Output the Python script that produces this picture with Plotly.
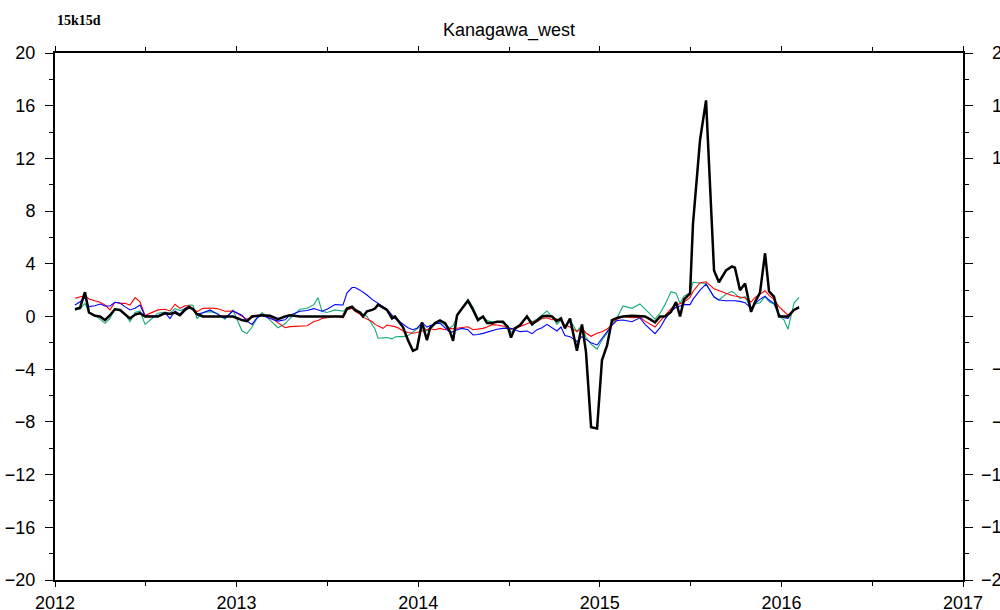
import plotly.graph_objects as go

# decimal-year time stamps of the samples
t = [2012.110, 2012.138, 2012.165, 2012.187, 2012.220, 2012.248, 2012.275, 2012.303, 2012.330, 2012.358,
     2012.385, 2012.413, 2012.441, 2012.468, 2012.496, 2012.534, 2012.567, 2012.606, 2012.633, 2012.661,
     2012.688, 2012.716, 2012.738, 2012.760, 2012.782, 2012.815, 2012.854, 2012.892, 2012.936, 2012.980,
     2013.030, 2013.057, 2013.085, 2013.112, 2013.140, 2013.184, 2013.228, 2013.267, 2013.294, 2013.349,
     2013.388, 2013.426, 2013.448, 2013.470, 2013.498, 2013.542, 2013.586, 2013.608, 2013.636, 2013.652,
     2013.680, 2013.696, 2013.718, 2013.746, 2013.762, 2013.779, 2013.806, 2013.828, 2013.856, 2013.872,
     2013.894, 2013.916, 2013.944, 2013.971, 2013.993, 2014.021, 2014.048, 2014.065, 2014.093, 2014.120,
     2014.148, 2014.175, 2014.192, 2014.214, 2014.241, 2014.274, 2014.302, 2014.329, 2014.357, 2014.379,
     2014.406, 2014.434, 2014.467, 2014.495, 2014.511, 2014.533, 2014.561, 2014.599, 2014.627, 2014.654,
     2014.682, 2014.709, 2014.737, 2014.764, 2014.786, 2014.808, 2014.836, 2014.874, 2014.902, 2014.924,
     2014.952, 2014.985, 2015.012, 2015.040, 2015.067, 2015.095, 2015.128, 2015.177, 2015.221, 2015.249,
     2015.276, 2015.304, 2015.332, 2015.359, 2015.392, 2015.420, 2015.442, 2015.464, 2015.497, 2015.513,
     2015.552, 2015.585, 2015.629, 2015.656, 2015.695, 2015.728, 2015.744, 2015.772, 2015.800, 2015.833,
     2015.855, 2015.882, 2015.910, 2015.932, 2015.959, 2015.987, 2016.014, 2016.036, 2016.069, 2016.097]

black = [0.55, 0.67, 1.85, 0.30, 0.05, 0.00, -0.27, 0.10, 0.55, 0.50,
         0.17, -0.15, 0.15, 0.25, 0.00, 0.00, 0.00, 0.25, 0.20, 0.30,
         0.10, 0.50, 0.70, 0.55, 0.17, 0.00, 0.00, 0.00, 0.00, 0.00,
         -0.27, -0.35, 0.00, 0.05, 0.10, 0.05, -0.20, 0.00, 0.10, 0.00,
         0.00, 0.00, 0.00, 0.00, 0.00, 0.00, 0.00, 0.60, 0.75, 0.50,
         0.30, 0.00, 0.40, 0.50, 0.60, 0.90, 0.70, 0.50, -0.15, 0.00,
         -0.40, -0.80, -1.80, -2.60, -2.45, -0.45, -1.80, -0.90, -0.50, -0.30,
         -0.50, -1.15, -1.85, 0.10, 0.60, 1.20, 0.50, -0.27, 0.00, -0.50,
         -0.50, -0.40, -0.40, -0.85, -1.60, -0.90, -0.65, 0.00, -0.60, -0.27,
         0.00, 0.05, 0.00, -0.35, -0.15, -0.90, -0.15, -2.60, -0.60, -2.70,
         -8.40, -8.50, -3.30, -2.20, -0.27, -0.10, 0.00, 0.05, 0.05, 0.00,
         -0.20, -0.45, 0.00, 0.00, 0.35, 1.10, 0.00, 1.30, 1.75, 7.00,
         13.40, 16.40, 3.50, 2.60, 3.50, 3.80, 3.70, 2.00, 2.50, 0.35,
         1.10, 1.80, 4.80, 1.90, 1.50, 0.00, 0.00, 0.00, 0.50, 0.70]

blue = [0.87, 1.12, 1.43, 0.75, 0.82, 0.95, 0.80, 0.80, 1.08, 1.02,
        0.75, 0.50, 0.62, 0.87, 0.03, 0.02, 0.05, 0.30, -0.15, 0.42,
        0.17, 0.62, 0.67, 0.60, 0.17, 0.28, 0.50, 0.20, -0.12, 0.42,
        0.10, -0.35, -0.60, -0.10, 0.10, -0.15, -0.35, -0.25, 0.10, 0.40,
        0.45, 0.60, 0.50, 0.40, 0.55, 0.90, 0.87, 1.80, 2.20, 2.20,
        2.00, 1.85, 1.63, 1.30, 1.15, 1.00, 0.75, 0.55, 0.10, -0.15,
        -0.35, -0.55, -0.85, -1.00, -0.90, -0.45, -0.80, -0.70, -0.55, -0.50,
        -0.85, -1.20, -1.15, -1.00, -0.90, -1.00, -1.40, -1.37, -1.28, -1.20,
        -1.05, -0.97, -0.90, -0.88, -0.90, -1.00, -1.15, -1.10, -1.30, -1.00,
        -0.85, -0.60, -0.85, -1.10, -0.80, -1.45, -1.53, -1.90, -1.53, -1.75,
        -2.00, -2.16, -1.65, -1.15, -0.65, -0.30, -0.27, -0.40, -0.10, -0.60,
        -0.95, -1.30, -0.85, -0.20, 0.40, 0.70, 0.80, 0.90, 0.90, 1.30,
        2.00, 2.45, 1.50, 1.25, 1.20, 1.22, 1.20, 1.15, 1.05, 0.62,
        1.00, 1.30, 1.55, 1.25, 1.00, 0.15, -0.10, -0.15, 0.50, 0.75]

red = [1.38, 1.50, 1.58, 1.33, 1.18, 1.08, 0.87, 0.50, 1.08, 1.00,
       1.00, 0.87, 1.43, 1.12, 0.07, 0.30, 0.50, 0.55, 0.42, 0.93,
       0.62, 0.82, 0.82, 0.62, 0.37, 0.62, 0.65, 0.60, 0.40, 0.42,
       0.00, -0.20, -0.05, 0.05, 0.17, -0.05, -0.50, -0.85, -0.77, -0.70,
       -0.70, -0.38, -0.30, -0.15, -0.10, 0.05, -0.10, 0.50, 0.62, 0.40,
       0.17, -0.05, -0.20, -0.38, -0.60, -0.70, -0.90, -0.65, -0.72, -0.77,
       -0.90, -1.10, -1.22, -1.27, -1.22, -1.10, -0.97, -0.93, -1.00, -0.90,
       -1.00, -0.90, -0.93, -0.90, -0.85, -0.78, -1.00, -0.95, -0.90, -0.80,
       -0.62, -0.65, -0.72, -0.90, -0.98, -0.85, -0.75, -0.55, -0.40, -0.40,
       -0.15, -0.10, -0.25, -0.20, -0.30, -0.65, -0.80, -1.15, -0.85, -1.25,
       -1.50, -1.27, -1.15, -0.95, -0.65, -0.20, 0.00, -0.10, -0.05, -0.35,
       -0.60, -0.80, -0.35, 0.05, 0.60, 0.85, 0.95, 1.10, 1.45, 1.90,
       2.57, 2.64, 2.10, 1.95, 1.75, 1.60, 1.55, 1.50, 1.40, 1.10,
       1.45, 1.70, 1.96, 1.60, 1.30, 0.75, 0.35, 0.10, 0.50, 0.75]

green = [0.50, 0.57, 1.00, 0.30, 0.10, -0.20, -0.52, -0.15, 0.62, 0.42,
         0.17, -0.40, 0.30, 0.42, -0.60, -0.15, 0.25, 0.33, 0.25, 0.60,
         0.45, 0.60, 0.87, 0.85, -0.15, 0.30, 0.37, 0.25, -0.20, 0.50,
         -1.10, -1.30, -0.80, -0.15, 0.30, -0.27, -0.85, -0.55, -0.15, 0.55,
         0.62, 0.90, 1.43, 0.40, 0.30, 0.50, 0.40, 0.62, 0.62, 0.55,
         0.25, 0.15, 0.00, -0.55, -0.95, -1.65, -1.60, -1.60, -1.70, -1.55,
         -1.53, -1.53, -1.45, -1.20, -0.95, -0.65, -1.10, -0.80, -0.50, -0.40,
         -0.60, -0.85, -0.70, 0.00, 0.62, 1.30, 0.70, -0.15, 0.00, -0.30,
         -0.40, -0.40, -0.50, -0.70, -1.20, -0.95, -0.75, 0.00, -0.40, -0.20,
         0.10, 0.42, 0.00, -0.60, -0.30, -0.70, -0.30, -1.15, -0.65, -1.60,
         -2.10, -2.47, -1.78, -1.27, -0.50, -0.10, 0.80, 0.62, 0.95, 0.60,
         0.20, -0.20, 0.25, 0.90, 1.88, 1.76, 1.00, 1.55, 1.80, 2.60,
         2.57, 2.50, 1.45, 1.25, 1.70, 1.90, 1.76, 1.38, 1.50, 0.62,
         0.95, 1.05, 1.50, 1.12, 0.95, 0.05, -0.25, -0.97, 1.00, 1.45]

assert len(t) == len(black) == len(blue) == len(red) == len(green)

year_ticks = [2012, 2013, 2014, 2015, 2016, 2017]
y_ticks = [20, 16, 12, 8, 4, 0, -4, -8, -12, -16, -20]
# right-hand labels as they are visible in the original (cut by the page edge)
right_vals = [20, 16, 12, -4, -8, -12, -16, -20]
right_text = ["2", "1", "1", "\u2212", "\u2212", "\u22121", "\u22121", "\u22122"]

FONT = "Liberation Sans, Arial, Helvetica, sans-serif"

fig = go.Figure()
fig.add_trace(go.Scatter(x=t, y=green, mode="lines", line=dict(color="#14aa78", width=1.1)))
fig.add_trace(go.Scatter(x=t, y=red, mode="lines", line=dict(color="#ff0000", width=1.1)))
fig.add_trace(go.Scatter(x=t, y=blue, mode="lines", line=dict(color="#0000ff", width=1.1)))
fig.add_trace(go.Scatter(x=t, y=black, mode="lines", line=dict(color="#000000", width=2.5)))

for v, txt in zip(right_vals, right_text):
    xl = 1.0181 if txt.startswith("\u2212") and len(txt) > 1 else 1.0292
    fig.add_annotation(x=xl, xref="paper", y=v, yref="y", text=txt, showarrow=False,
                       xanchor="left", yanchor="middle", font=dict(family=FONT, size=18, color="black"))

fig.add_annotation(x=0.0, xref="paper", y=1.0626, yref="paper", text="<b>15k15d</b>", showarrow=False,
                   xanchor="left", yanchor="middle",
                   font=dict(family="Liberation Serif, Times New Roman, serif", size=14, color="black"))

fig.update_layout(
    width=1000, height=610,
    margin=dict(l=55, r=37, t=53, b=30, autoexpand=False),
    paper_bgcolor="white", plot_bgcolor="white",
    showlegend=False,
    font=dict(family=FONT, size=18, color="black"),
    title=dict(text="Kanagawa_west", x=0.509, xanchor="center", y=1 - 30 / 610, yanchor="middle",
               yref="container", font=dict(family=FONT, size=18, color="black")),
)
fig.update_xaxes(range=[2012, 2017], tickmode="array", tickvals=year_ticks,
                 ticktext=[str(y) for y in year_ticks],
                 showgrid=False, zeroline=False, showline=True, linewidth=2, linecolor="black",
                 mirror="ticks", ticks="outside", ticklen=5, tickwidth=1, tickcolor="black",
                 minor=dict(dtick=0.5, tick0=2012, ticks="outside", ticklen=4, tickcolor="black", showgrid=False),
                 ticklabelstandoff=0,
                 tickfont=dict(family=FONT, size=18), automargin=False)
fig.update_yaxes(range=[-20, 20], tickmode="array", tickvals=y_ticks,
                 showgrid=False, zeroline=False, showline=True, linewidth=2, linecolor="black",
                 mirror="ticks", ticks="outside", ticklen=8, tickwidth=1, tickcolor="black",
                 minor=dict(dtick=2, tick0=0, ticks="outside", ticklen=4, tickcolor="black", showgrid=False),
                 ticklabelstandoff=6,
                 tickfont=dict(family=FONT, size=18), automargin=False)

fig.write_html("out.html", config={"displayModeBar": False},
               post_script="document.body.style.margin='0';document.body.style.overflow='hidden';")
